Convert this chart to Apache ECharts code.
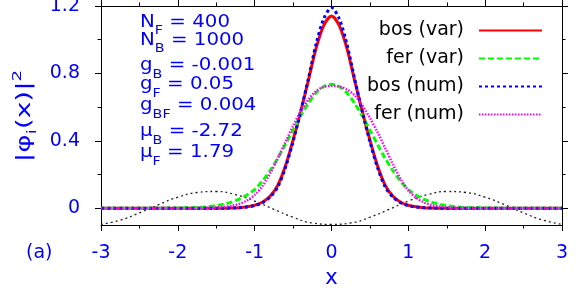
<!DOCTYPE html>
<html><head><meta charset="utf-8">
<script src="https://cdn.jsdelivr.net/npm/echarts@6/dist/echarts.min.js"></script>
<style>html,body{margin:0;padding:0;background:#fff}#c{width:581px;height:290px}</style>
</head><body><div id="c"></div>
<script>
// ---- data ----
const xGrid = [-3, -2.6, -2.2, -2.0, -1.8, -1.7, -1.6, -1.5, -1.4, -1.3, -1.2, -1.1, -1.0, -0.9, -0.8, -0.7, -0.6, -0.5, -0.4, -0.3, -0.2, -0.1,
  0, 0.1, 0.2, 0.3, 0.4, 0.5, 0.6, 0.7, 0.8, 0.9, 1.0, 1.1, 1.2, 1.3, 1.4, 1.5, 1.6, 1.7, 1.8, 2.0, 2.2, 2.6, 3];
const bosVar = [0, 0, 0, 0, 0, 0, 0, 0, 0, 0.001, 0.003, 0.008, 0.017, 0.035, 0.07, 0.135, 0.25, 0.405, 0.575, 0.76, 0.95, 1.085,
  1.14, 1.085, 0.95, 0.76, 0.575, 0.405, 0.25, 0.135, 0.07, 0.035, 0.017, 0.008, 0.003, 0.001, 0, 0, 0, 0, 0, 0, 0, 0, 0];
const ferVar = [0, 0, 0, 0.001, 0.003, 0.005, 0.009, 0.015, 0.024, 0.036, 0.054, 0.078, 0.11, 0.16, 0.222, 0.295, 0.378, 0.463, 0.548, 0.623, 0.685, 0.722,
  0.735, 0.722, 0.685, 0.623, 0.548, 0.463, 0.378, 0.295, 0.222, 0.16, 0.11, 0.078, 0.054, 0.036, 0.024, 0.015, 0.009, 0.005, 0.003, 0.001, 0, 0, 0];
const bosNum = [0, 0, 0, 0, 0, 0, 0, 0, 0, 0.001, 0.003, 0.007, 0.015, 0.032, 0.065, 0.125, 0.24, 0.395, 0.575, 0.77, 0.975, 1.125,
  1.19, 1.125, 0.975, 0.77, 0.575, 0.395, 0.24, 0.125, 0.065, 0.032, 0.015, 0.007, 0.003, 0.001, 0, 0, 0, 0, 0, 0, 0, 0, 0];
const ferNum = [0, 0, 0, 0, 0, 0.001, 0.002, 0.004, 0.008, 0.014, 0.025, 0.045, 0.078, 0.13, 0.205, 0.295, 0.392, 0.488, 0.575, 0.645, 0.695, 0.72,
  0.725, 0.722, 0.705, 0.67, 0.61, 0.535, 0.45, 0.355, 0.26, 0.172, 0.105, 0.062, 0.035, 0.019, 0.01, 0.005, 0.002, 0.001, 0, 0, 0, 0, 0];
const xPot = [-3, -2.75, -2.5, -2.25, -2.0, -1.75, -1.5, -1.25, -1.0, -0.75, -0.5, -0.25, 0, 0.25, 0.5, 0.75, 1.0, 1.25, 1.5, 1.75, 2.0, 2.25, 2.5, 2.75, 3];
const potential = [-0.096, -0.071, -0.028, 0.021, 0.065, 0.093, 0.099, 0.08, 0.042, -0.007, -0.054, -0.088, -0.096, -0.088, -0.054, -0.007, 0.042, 0.08, 0.099, 0.093, 0.065, 0.021, -0.028, -0.071, -0.096];
const seriesNames = ['bos (var)', 'fer (var)', 'bos (num)', 'fer (num)'];
const yLabelValues = [0, 0.4, 0.8, 1.2];
const yMinorValues = [0.2, 0.6, 1.0];
const paramText = [
  ['N', 'F', ' = 400'],
  ['N', 'B', ' = 1000'],
  ['g', 'B', ' = -0.001'],
  ['g', 'F', ' = 0.05'],
  ['g', 'BF', ' = 0.004'],
  ['\u03bc', 'B', ' = -2.72'],
  ['\u03bc', 'F', ' = 1.79']
];

// ---- chart ----
const FONT = 'DejaVu Sans';
const BLUE = '#0000ff';
const pairs = (xs, ys) => xs.map((x, i) => [x, ys[i]]);

const xBase = {type: 'value', min: -3, max: 3, splitLine: {show: false},
  axisLine: {onZero: false, lineStyle: {color: '#000', width: 1}}};
const yBase = {type: 'value', min: -0.1, max: 1.2, splitLine: {show: false},
  axisLine: {onZero: false, lineStyle: {color: '#000', width: 1}}};
const tickStyle = {color: '#000', width: 1};

const paramTops = [7, 25.4, 50.7, 69.7, 90.7, 116.7, 137.7];
const graphics = paramText.map((p, i) => ({
  type: 'text', x: 140, y: paramTops[i], scaleX: 1.1,
  style: {
    text: '{m|' + p[0] + '}{s|' + p[1] + '}{m|' + p[2] + '}',
    verticalAlign: 'top', align: 'left',
    rich: {
      m: {fontSize: 18, lineHeight: 30, fontFamily: FONT, fill: BLUE, verticalAlign: 'middle'},
      s: {fontSize: 13, fontFamily: FONT, fill: BLUE, verticalAlign: 'bottom'}
    }
  }
}));
graphics.push({type: 'text', x: 26, y: 253, style: {text: '(a)', fontSize: 19, fontFamily: FONT, fill: BLUE, verticalAlign: 'middle', align: 'left'}});
// rotated y-axis title
graphics.push({type: 'text', x: 25, y: 116, rotation: Math.PI / 2, scaleX: 1.4,
  style: {
    text: '{m||\u03c6}{s|i}{m|(x)|}{p|2}', align: 'center', verticalAlign: 'middle',
    rich: {
      m: {fontSize: 20, lineHeight: 28, fontFamily: FONT, fill: BLUE, verticalAlign: 'middle'},
      s: {fontSize: 13, fontFamily: FONT, fill: BLUE, verticalAlign: 'bottom'},
      p: {fontSize: 13, fontFamily: FONT, fill: BLUE, verticalAlign: 'top'}
    }
  }
});

const chart = echarts.init(document.getElementById('c'));
chart.setOption({
  animation: false,
  grid: {left: 101, right: 19, top: 6, bottom: 65, containLabel: false, outerBoundsMode: 'none'},
  xAxis: [
    Object.assign({}, xBase, {position: 'bottom', interval: 1,
      axisTick: {length: 6, lineStyle: tickStyle},
      axisLabel: {color: BLUE, fontSize: 19, fontFamily: FONT, margin: 19},
      name: 'x', nameLocation: 'middle', nameGap: 43,
      nameTextStyle: {color: BLUE, fontSize: 21, fontFamily: FONT}}),
    Object.assign({}, xBase, {position: 'bottom', interval: 0.5, axisLine: {show: false, onZero: false},
      axisTick: {length: 3.5, lineStyle: tickStyle}, axisLabel: {show: false}}),
    Object.assign({}, xBase, {position: 'top', interval: 1,
      axisTick: {length: 6, lineStyle: tickStyle}, axisLabel: {show: false}}),
    Object.assign({}, xBase, {position: 'top', interval: 0.5, axisLine: {show: false, onZero: false},
      axisTick: {length: 3.5, lineStyle: tickStyle}, axisLabel: {show: false}})
  ],
  yAxis: [
    Object.assign({}, yBase, {position: 'left',
      axisTick: {length: 6, lineStyle: tickStyle, customValues: yLabelValues},
      axisLabel: {color: BLUE, fontSize: 19, fontFamily: FONT, margin: 21, customValues: yLabelValues}}),
    Object.assign({}, yBase, {position: 'left', axisLine: {show: false, onZero: false},
      axisTick: {length: 3.5, lineStyle: tickStyle, customValues: yMinorValues}, axisLabel: {show: false}}),
    Object.assign({}, yBase, {position: 'right',
      axisTick: {length: 6, lineStyle: tickStyle, customValues: yLabelValues}, axisLabel: {show: false}}),
    Object.assign({}, yBase, {position: 'right', axisLine: {show: false, onZero: false},
      axisTick: {length: 3.5, lineStyle: tickStyle, customValues: yMinorValues}, axisLabel: {show: false}})
  ],
  legend: {
    data: seriesNames, orient: 'vertical', align: 'right', right: 33, top: 16,
    itemWidth: 63, itemHeight: 14, itemGap: 9, selectedMode: false,
    itemStyle: {opacity: 0},
    textStyle: {fontFamily: FONT, fontSize: 19, color: '#000', padding: [0, 10, 0, 0]}
  },
  graphic: graphics,
  series: [
    {name: 'potential', type: 'line', data: pairs(xPot, potential), symbol: 'none', smooth: true,
      lineStyle: {color: '#222', width: 1.3, type: [2, 3]}, z: 1},
    {name: seriesNames[0], type: 'line', data: pairs(xGrid, bosVar), symbol: 'none', smooth: 0.3,
      lineStyle: {color: '#ff0000', width: 3}, itemStyle: {color: '#ff0000'}, z: 2},
    {name: seriesNames[1], type: 'line', data: pairs(xGrid, ferVar), symbol: 'none', smooth: 0.3,
      lineStyle: {color: '#00ff00', width: 3, type: [6, 3]}, itemStyle: {color: '#00ff00'}, z: 3},
    {name: seriesNames[2], type: 'line', data: pairs(xGrid, bosNum), symbol: 'none', smooth: 0.3,
      lineStyle: {color: '#0000ff', width: 3, type: [3, 3]}, itemStyle: {color: '#0000ff'}, z: 4},
    {name: seriesNames[3], type: 'line', data: pairs(xGrid, ferNum), symbol: 'none', smooth: 0.3,
      lineStyle: {color: '#ff00ff', width: 2.5, type: [1.5, 1.5]}, itemStyle: {color: '#ff00ff'}, z: 5}
  ]
});
</script></body></html>
